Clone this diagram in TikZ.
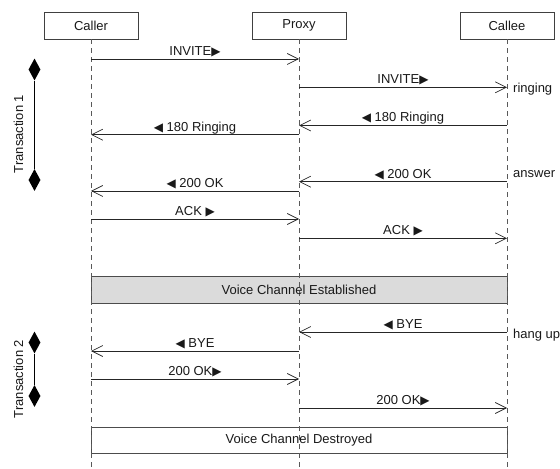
\documentclass[tikz,border=0pt]{standalone}
\usepackage{fontspec}
\setmainfont{Liberation Sans}
\newfontfamily\symfont{DejaVu Sans}
\usetikzlibrary{arrows.meta,shapes.geometric}
\newcommand{\rtri}{{\symfont\fontsize{12bp}{12bp}\selectfont ▶}}
\newcommand{\ltri}{{\symfont\fontsize{12bp}{12bp}\selectfont ◀}}
\begin{document}
\begin{tikzpicture}[x=1bp,y=-1bp,
  every node/.style={font=\fontsize{13bp}{15bp}\selectfont,text=black!90},
  head/.style={draw=black!75,fill=white,line width=0.7bp,minimum width=94bp,minimum height=27bp,inner sep=0pt},
  lifeline/.style={draw=black!65,line width=0.8bp,dash pattern=on 5bp off 4bp},
  msg/.style={draw=black!85,line width=0.8bp,-{Straight Barb[length=11bp,width=11bp,line width=0.7bp]}},
  lbl/.style={anchor=base,inner sep=0pt,yshift=3.5bp},
  side/.style={anchor=west,inner sep=0pt},
  band/.style={draw=black!70,line width=0.8bp},
  gem/.style={diamond,fill=black,inner sep=0pt,minimum width=12bp,minimum height=22bp},
  span/.style={draw=black,line width=0.9bp}]
\useasboundingbox (0,0) rectangle (560,469);

% participants
\node[head] (caller) at (91,25.5) {Caller};
\node[head] (proxy)  at (299,25.5) {Proxy};
\node[head] (callee) at (507,25.5) {Callee};
\coordinate (callerEnd) at (91,469);
\coordinate (proxyEnd)  at (299,469);
\coordinate (calleeEnd) at (507,469);

% voice channel bands
\coordinate (b1a) at (91,276);  \coordinate (b1b) at (507,303);
\coordinate (b2a) at (91,427);  \coordinate (b2b) at (507,453);
\draw[band,fill=black!14] (b1a) rectangle (b1b);
\draw[band,fill=white] (b2a) rectangle (b2b);

% lifelines
\draw[lifeline] (caller.south) -- (callerEnd);
\draw[lifeline] (proxy.south) -- (proxyEnd);
\draw[lifeline] (callee.south) -- (calleeEnd);

\node (estlbl) at (299,289.5) {Voice Channel Established};
\node (deslbl) at (299,440) {Voice Channel Destroyed};

% message anchor points on the lifelines
\foreach \n/\y in {1/59,2/87.3,3/125.5,4/134.7,5/181.7,6/191,7/219,8/238.3,9/332,10/351,11/379,12/408}{
  \coordinate (c\n) at (91,\y);
  \coordinate (p\n) at (299,\y);
  \coordinate (e\n) at (507,\y);
}

% messages
\draw[msg] (c1) -- node[lbl] {INVITE\rtri} (p1);
\draw[msg] (p2) -- node[lbl] {INVITE\rtri} (e2);
\draw[msg] (e3) -- node[lbl] {\ltri\ 180 Ringing} (p3);
\draw[msg] (p4) -- node[lbl] {\ltri\ 180 Ringing} (c4);
\draw[msg] (e5) -- node[lbl] {\ltri\ 200 OK} (p5);
\draw[msg] (p6) -- node[lbl] {\ltri\ 200 OK} (c6);
\draw[msg] (c7) -- node[lbl] {ACK \rtri} (p7);
\draw[msg] (p8) -- node[lbl] {ACK \rtri} (e8);
\draw[msg] (e9) -- node[lbl] {\ltri\ BYE} (p9);
\draw[msg] (p10) -- node[lbl] {\ltri\ BYE} (c10);
\draw[msg] (c11) -- node[lbl] {200 OK\rtri} (p11);
\draw[msg] (p12) -- node[lbl] {200 OK\rtri} (e12);

% callee-side notes
\node[side] (ringing) at (513,89) {ringing};
\node[side] (answer)  at (513,174.5) {answer};
\node[side] (hangup)  at (513,335) {hang up};

% transaction spans
\node[gem] (t1a) at (34.5,69.5) {};
\node[gem] (t1b) at (34.5,180) {};
\draw[span] (t1a) -- (t1b);
\node[rotate=90] (t1) at (18.5,134) {Transaction 1};
\node[gem] (t2a) at (34.5,342.5) {};
\node[gem] (t2b) at (34.5,396) {};
\draw[span] (t2a) -- (t2b);
\node[rotate=90] (t2) at (18.5,379) {Transaction 2};
\end{tikzpicture}
\end{document}
